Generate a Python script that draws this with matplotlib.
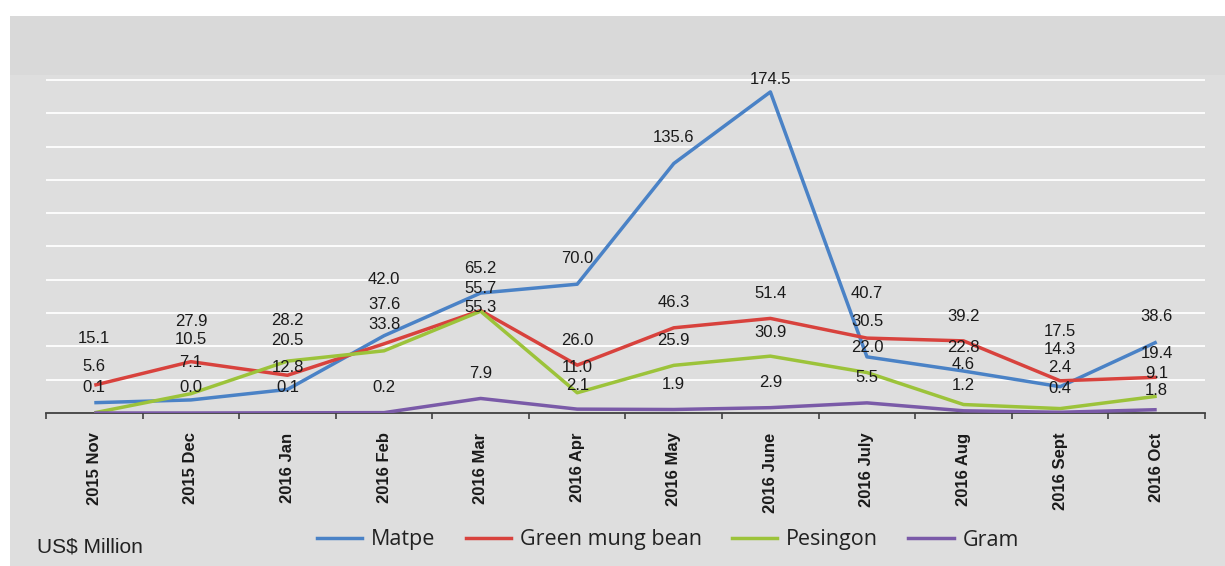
import numpy as np
import matplotlib
matplotlib.use("Agg")
import matplotlib.pyplot as plt
from matplotlib.patches import Rectangle
from matplotlib.lines import Line2D

# data (US$ million)
months = ["2015 Nov", "2015 Dec", "2016 Jan", "2016 Feb", "2016 Mar", "2016 Apr",
          "2016 May", "2016 June", "2016 July", "2016 Aug", "2016 Sept", "2016 Oct"]
matpe = [5.6, 7.1, 12.8, 42.0, 65.2, 70.0, 135.6, 174.5, 30.5, 22.8, 14.3, 38.6]
green_mung = [15.1, 27.9, 20.5, 37.6, 55.7, 26.0, 46.3, 51.4, 40.7, 39.2, 17.5, 19.4]
pesingon = [0.1, 10.5, 28.2, 33.8, 55.3, 11.0, 25.9, 30.9, 22.0, 4.6, 2.4, 9.1]
gram = [0.0, 0.0, 0.1, 0.2, 7.9, 2.1, 1.9, 2.9, 5.5, 1.2, 0.4, 1.8]
gram_shown = [False] + [True] * 11

names = ["Matpe", "Green mung bean", "Pesingon", "Gram"]
colors = ["#4a82c6", "#d8423d", "#9cc33a", "#7a5aa8"]

# vertical offset (pixels) of each data label above its point
off_matpe = [36, 37, 22, 56, 25, 26, 26, 12, 35, 24, 37, 25]
off_green = [47, 40, 35, 39, 22, 25, 25, 25, 45, 24, 49, 24]
off_pes = [25, 54, 41, 26, 4, 25, 25, 24, 25, 40, 41, 23]
off_gram = [25, 25, 25, 25, 25, 24, 25, 25, 25, 25, 24, 19]

W, H = 1225, 566
fig = plt.figure(figsize=(W / 100, H / 100), dpi=100)
fig.patch.set_facecolor("white")
fig.patches.append(Rectangle((10 / W, 0), 1, 1 - 16 / H, transform=fig.transFigure,
                             facecolor="#d9d9d9", edgecolor="none", zorder=-3))
fig.patches.append(Rectangle((10 / W, 0), 1, 1 - 75 / H, transform=fig.transFigure,
                             facecolor="#dedede", edgecolor="none", zorder=-2))

ax = fig.add_axes([46 / W, 153 / H, (1205 - 46) / W, 338 / H])
ax.set_facecolor("none")

x = np.arange(len(months))
series = [matpe, green_mung, pesingon, gram]
offsets = [off_matpe, off_green, off_pes, off_gram]
for k, vals in enumerate(series):
    ax.plot(x, vals, color=colors[k], lw=2.5, solid_capstyle="butt", zorder=3)

for k, vals in enumerate(series):
    for i, v in enumerate(vals):
        if k == 3 and not gram_shown[i]:
            continue
        ax.annotate("%.1f" % v, (i, v), xytext=(0, offsets[k][i]),
                    textcoords="offset pixels", ha="center", va="center",
                    fontsize=12, family="Liberation Sans", color="#1a1a1a", zorder=4)

ax.set_xlim(-0.5, 11.5)
ax.set_ylim(0, 338 / 1.84)
ax.set_yticks(np.arange(1, 11) * 18.1)
ax.yaxis.grid(True, color="white", lw=1.3)
ax.set_axisbelow(True)
ax.tick_params(axis="y", length=0, labelleft=False)

ax.set_xticks(x)
ax.set_xticklabels(months, rotation=90, fontweight="bold", fontsize=12,
                   family="Liberation Sans", color="#1a1a1a")
ax.set_xticks(np.arange(-0.5, 12, 1), minor=True)
ax.tick_params(axis="x", which="major", length=0, pad=14)
ax.tick_params(axis="x", which="minor", length=4.5, width=1.2, color="#404040", direction="out")

for s in ["left", "right", "top"]:
    ax.spines[s].set_visible(False)
ax.spines["bottom"].set_color("#404040")
ax.spines["bottom"].set_linewidth(1.3)

handles = [Line2D([0], [0], color=c, lw=2.5) for c in colors]
fig.legend(handles, names, loc="center", bbox_to_anchor=(668 / W, 1 - 540 / H), ncol=4,
           frameon=False, prop={"family": "Open Sans", "size": 15.5},
           handlelength=2.1, handletextpad=0.42, columnspacing=1.4, labelcolor="#222222")

fig.text(37 / W, 1 - 547 / H, "US$ Million", fontsize=15, family="Liberation Sans",
         va="center", color="#222222")

fig.savefig("out.png", dpi=100, facecolor=fig.get_facecolor())
